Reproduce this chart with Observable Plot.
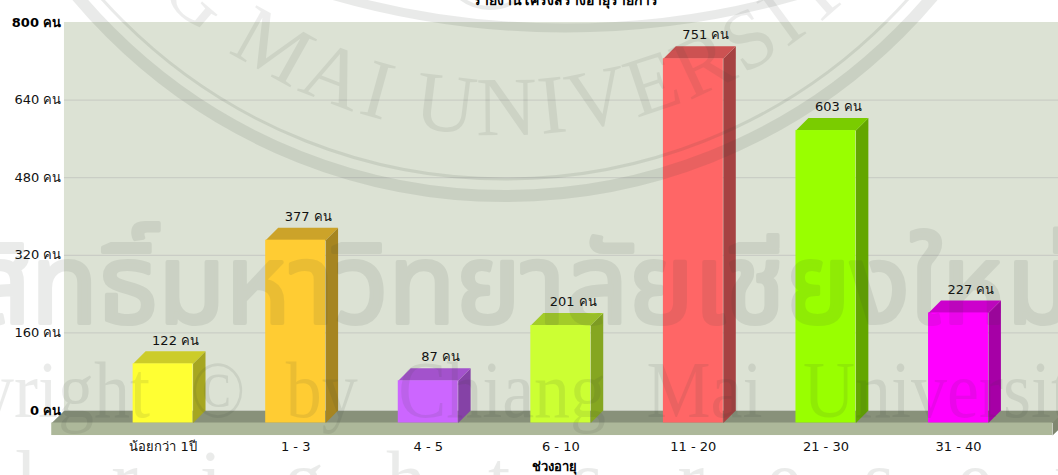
<!DOCTYPE html>
<html>
<head>
<meta charset="utf-8">
<script src="https://cdn.jsdelivr.net/npm/d3@7"></script>
<script src="https://cdn.jsdelivr.net/npm/@observablehq/plot@0.6"></script>
<style>
html,body{margin:0;padding:0;background:#fff;width:1058px;height:475px;overflow:hidden}
#wrap{position:relative;width:1058px;height:475px}
#wrap svg{position:absolute;left:0;top:0}
</style>
</head>
<body>
<div id="wrap"></div>
<script>
const categories = ["น้อยกว่า 1ปี", "1 - 3", "4 - 5", "6 - 10", "11 - 20", "21 - 30", "31 - 40"];
const values = [122, 377, 87, 201, 751, 603, 227];
const colors = ["#ffff33", "#ffcc33", "#cc66ff", "#ccff33", "#ff6666", "#99ff00", "#ff00ff"];
const plainTicks = [160, 320, 480, 640];
const boldTicks = [0, 800];
const unit = "คน";
const titleText = "รายงานโครงสร้างอายุรายการ";
const xTitle = "ช่วงอายุ";
const sealText = "CHIANG MAI UNIVERSITY";
const wmThai = "ลิขสิทธิ์มหาวิทยาลัยเชียงใหม่";
const wmCopy = "Copyright © by Chiang Mai University";
const wmRights = "All rights reserved";

// 3-D shape, in scale units
const halfW = 0.226, depthX = 0.094, depthY = 25.8;
const wallL = -0.744, wallR = 7.2, floorL = -0.84, floorR = 6.71;

const shade = (c, k) => { const o = d3.rgb(c); return d3.rgb(o.r*k, o.g*k, o.b*k).formatHex(); };
const bars = values.map((v, i) => ({i, v, c: colors[i], cat: categories[i]}));
const topFace = bars.flatMap(b => [
  {z:b.i, x:b.i-halfW, y:b.v-depthY, c:shade(b.c,.8)},
  {z:b.i, x:b.i-halfW+depthX, y:b.v, c:shade(b.c,.8)},
  {z:b.i, x:b.i+halfW+depthX, y:b.v, c:shade(b.c,.8)},
  {z:b.i, x:b.i+halfW, y:b.v-depthY, c:shade(b.c,.8)}
]);
const sideFace = bars.flatMap(b => [
  {z:b.i, x:b.i+halfW, y:b.v-depthY, c:shade(b.c,.65)},
  {z:b.i, x:b.i+halfW+depthX, y:b.v, c:shade(b.c,.65)},
  {z:b.i, x:b.i+halfW+depthX, y:0, c:shade(b.c,.65)},
  {z:b.i, x:b.i+halfW, y:-depthY, c:shade(b.c,.65)}
]);
const floorBack = [
  {x:wallL,y:0},{x:wallR,y:0},{x:floorR,y:-depthY},{x:floorL,y:-depthY}
];
const floorSide = [
  {x:floorR,y:-depthY},{x:floorR+depthX,y:0},{x:floorR+depthX,y:-depthY},{x:floorR,y:-2*depthY}
];
const poly = (d, fill) => Plot.line(d, {x:"x", y:"y", fill, stroke:"none", curve:"linear"});
const font = "'DejaVu Sans', sans-serif";

const chart = Plot.plot({
  width: 1058, height: 475,
  marginLeft: 64, marginRight: 0, marginTop: 22, marginBottom: 65,
  x: {type:"linear", domain:[0,6], range:[162.6,958], axis:null},
  y: {type:"linear", domain:[0,800], range:[410,22], axis:null},
  style: {background:"transparent", fontFamily:font, fontSize:"13px", overflow:"hidden"},
  marks: [
    Plot.rect([0], {x1:wallL, x2:wallR, y1:0, y2:800, fill:"#dce2d4"}),
    Plot.ruleY(plainTicks, {x1:wallL, x2:wallR, stroke:"#c6c9c2", strokeWidth:1}),
    poly(floorBack, "#88917a"),
    Plot.rect([0], {x1:floorL, x2:floorR, y1:-depthY, y2:-2*depthY, fill:"#adb89a"}),
    poly(floorSide, "#7f8770"),
    Plot.line(sideFace, {x:"x", y:"y", z:"z", fill:"c", stroke:"none"}),
    Plot.line(topFace, {x:"x", y:"y", z:"z", fill:"c", stroke:"none"}),
    Plot.rect(bars, {x1:d=>d.i-halfW, x2:d=>d.i+halfW, y1:-depthY, y2:d=>d.v-depthY, fill:"c"}),
    Plot.text(bars, {x:d=>d.i+depthX, y:"v", text:d=>`${d.v} ${unit}`, dy:-11, fill:"#111", fontSize:13}),
    Plot.axisY({ticks:plainTicks, tickFormat:d=>`${d} ${unit}`, tickSize:0, tickPadding:3, label:null, fill:"#111", fontSize:13}),
    Plot.axisY({ticks:boldTicks, tickFormat:d=>`${d} ${unit}`, tickSize:0, tickPadding:3, label:null, fill:"#000", fontSize:13, fontWeight:"bold"}),
    Plot.text(bars, {x:"i", y:-2*depthY, text:"cat", dy:11, fill:"#111", fontSize:13}),
    Plot.text([xTitle], {x:2.95, y:-2*depthY, dy:31, fontWeight:"bold", fill:"#000", fontSize:13}),
    Plot.text([titleText], {frameAnchor:"top", dx:4, dy:-27, fontWeight:"bold", fill:"#000", fontSize:14})
  ]
});
document.getElementById("wrap").append(chart);

// scanned-in watermark lying over the whole picture
const wm = d3.select("#wrap").append("svg").attr("width",1058).attr("height",475).style("pointer-events","none");
const ink = "rgb(55,65,55)", alpha = 0.11;
const cx = 505, cy = -362;
const arcAt = (x, y, r) => `M${x-r},${y}A${r},${r} 0 0 0 ${x+r},${y}`;
const arc = r => arcAt(cx, cy, r);
const band = (d, w) => wm.append("path").attr("d",d).attr("fill","none").attr("stroke",ink).attr("stroke-width",w).attr("opacity",alpha);
band(arc(558), 12);
band(arc(541), 3);
band(arcAt(565, -812, 840), 9);
band(arcAt(490, -40, 48), 4);
wm.append("defs").append("path").attr("id","sealPath").attr("d",arc(497));
wm.append("text").attr("font-family","'Liberation Serif',serif").attr("font-size",84).attr("fill",ink).attr("opacity",alpha*.8)
  .attr("text-anchor","middle").style("letter-spacing","4px")
  .append("textPath").attr("href","#sealPath").attr("startOffset","43%").text(sealText);
wm.append("text").attr("x",-155).attr("y",323).attr("font-family","'Noto Sans Thai','Noto Sans',sans-serif")
  .attr("font-size",110).attr("fill",ink).attr("stroke",ink).attr("stroke-width",4).attr("stroke-linejoin","round")
  .attr("opacity",alpha*.9).text(wmThai);
wm.append("text").attr("transform","translate(-142,417) scale(.9,1)").attr("font-family","'Liberation Serif',serif")
  .attr("font-size",80).attr("fill",ink).attr("opacity",alpha*.9).style("word-spacing","25px").text(wmCopy);
wm.append("text").attr("x",-189).attr("y",506).attr("font-family","'Liberation Serif',serif")
  .attr("font-size",80).attr("fill",ink).attr("opacity",alpha*.9).style("letter-spacing","62px").style("word-spacing","-70px").text(wmRights);
</script>
</body>
</html>
